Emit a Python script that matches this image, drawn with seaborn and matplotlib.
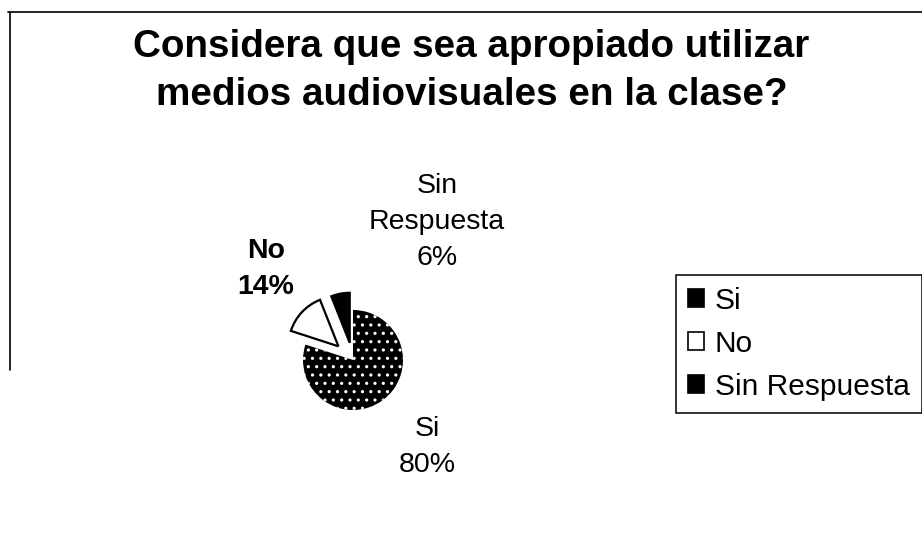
import matplotlib
matplotlib.use('Agg')
import matplotlib.pyplot as plt
from matplotlib.lines import Line2D
from matplotlib.patches import Patch
import seaborn as sns

# Data
categories = ['Si', 'No', 'Sin Respuesta']
values = [80, 14, 6]
slice_labels = ['Si', 'No', 'Sin\nRespuesta']
title_lines = ['Considera que sea apropiado utilizar',
               'medios audiovisuales en la clase?']

# Styling / layout
slice_colors = ['black', 'white', 'black']
explode = [0, 0.4, 0.35]
label_offsets = [(1.48, -1.75), (-1.74, 1.82), (1.68, 2.76)]
label_weights = ['normal', 'bold', 'normal']

sns.set_style('white')
plt.rcParams['font.family'] = ['Liberation Sans', 'DejaVu Sans']
plt.rcParams['text.color'] = 'black'
plt.rcParams['hatch.linewidth'] = 1.1

W, H = 922, 543
cx, cy, r = 353, 360, 50   # pie centre and radius in pixels

fig = plt.figure(figsize=(W / 100, H / 100), dpi=100)
ax = fig.add_axes([0, 0, 1, 1])

wedges, _ = ax.pie(values, explode=explode, startangle=90, counterclock=False,
                   colors=slice_colors,
                   wedgeprops=dict(edgecolor='black', linewidth=1.6))
# the big slice is black with a white dotted texture
wedges[0].set_edgecolor('white')
wedges[0].set_linewidth(0)
wedges[0].set_hatch('..')

ax.set_xlim(-cx / r, (W - cx) / r)
ax.set_ylim(-(H - cy) / r, cy / r)
ax.set_aspect('auto')
ax.axis('off')

for lab, v, (dx, dy), wt in zip(slice_labels, values, label_offsets, label_weights):
    ax.text(dx, dy, f'{lab}\n{v}%', ha='center', va='center',
            fontsize=20.5, fontweight=wt, color='black', linespacing=1.5)

# title, two lines
fig.text(471.5 / W, 1 - 57 / H, title_lines[0], ha='center', va='baseline',
         fontsize=27.8, fontweight='bold')
fig.text(471.5 / W, 1 - 105 / H, title_lines[1], ha='center', va='baseline',
         fontsize=27.8, fontweight='bold')

# chart frame (top and left edges only are visible)
fig.add_artist(Line2D([8 / W, 1], [1 - 12 / H, 1 - 12 / H],
                      transform=fig.transFigure, color='black', lw=1.2))
fig.add_artist(Line2D([10 / W, 10 / W], [1 - 12 / H, 1 - 370 / H],
                      transform=fig.transFigure, color='black', lw=1.2))

handles = [Patch(facecolor=c, edgecolor='black', linewidth=1.2) for c in slice_colors]
leg = fig.legend(handles, categories, loc='upper left',
                 bbox_to_anchor=(676 / W, 1 - 275 / H), bbox_transform=fig.transFigure,
                 borderaxespad=0, fontsize=21.5, handlelength=0.55, handleheight=0.55,
                 handletextpad=0.35, labelspacing=0.5, borderpad=0.4,
                 frameon=True, fancybox=False, edgecolor='black', framealpha=1)
leg.get_frame().set_linewidth(1.1)

fig.savefig('out.png', dpi=100)
